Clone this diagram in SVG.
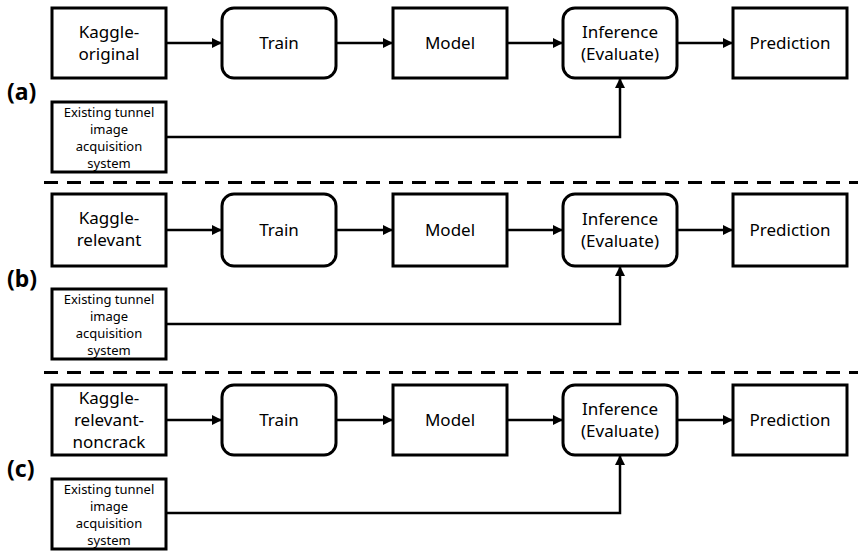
<svg xmlns="http://www.w3.org/2000/svg" width="858" height="551" viewBox="0 0 858 551">
<defs>
<marker id="ah" viewBox="0 0 10 10" refX="10" refY="5" markerWidth="10" markerHeight="10" markerUnits="userSpaceOnUse" orient="auto">
<path d="M0,0 L10,5 L0,10 Z" fill="#000"/>
</marker>
<style>
.box{fill:#fff;stroke:#000;stroke-width:3}
.t{font-family:"Noto Sans","Open Sans","Liberation Sans",sans-serif;font-size:17px;text-anchor:middle;fill:#000}
.s{font-family:"Noto Sans","Open Sans","Liberation Sans",sans-serif;font-size:13px;text-anchor:middle;fill:#000}
.lab{font-family:"Noto Sans","Open Sans","Liberation Sans",sans-serif;font-size:23px;font-weight:bold;fill:#000}
.c{fill:none;stroke:#000;stroke-width:2.5;marker-end:url(#ah)}
.d{fill:none;stroke:#000;stroke-width:3;stroke-dasharray:14 9}
</style>
</defs>
<rect width="858" height="551" fill="#fff"/>

<g id="separators">
<line class="d" x1="44" y1="182.5" x2="858" y2="182.5"/>
<line class="d" x1="44" y1="372.5" x2="858" y2="372.5"/>
</g>

<text class="lab" x="7" y="100">(a)</text>
<text class="lab" x="7" y="287">(b)</text>
<text class="lab" x="7" y="477">(c)</text>

<g id="connectors">
<line class="c" x1="166" y1="43" x2="222" y2="43"/>
<line class="c" x1="336" y1="43" x2="393" y2="43"/>
<line class="c" x1="507" y1="43" x2="563" y2="43"/>
<line class="c" x1="677" y1="43" x2="733" y2="43"/>
<polyline class="c" points="166,137 620,137 620,78"/>

<line class="c" x1="166" y1="230" x2="222" y2="230"/>
<line class="c" x1="336" y1="230" x2="393" y2="230"/>
<line class="c" x1="507" y1="230" x2="563" y2="230"/>
<line class="c" x1="677" y1="230" x2="733" y2="230"/>
<polyline class="c" points="166,324 620,324 620,266"/>

<line class="c" x1="166" y1="420" x2="222" y2="420"/>
<line class="c" x1="336" y1="420" x2="393" y2="420"/>
<line class="c" x1="507" y1="420" x2="563" y2="420"/>
<line class="c" x1="677" y1="420" x2="733" y2="420"/>
<polyline class="c" points="166,513 620,513 620,455"/>
</g>

<!-- Row a -->
<g id="a-kaggle"><rect class="box" x="52" y="8" width="114" height="70"/><text class="t" x="109" y="38">Kaggle-</text><text class="t" x="109" y="60">original</text></g>
<g id="a-train"><rect class="box" x="222" y="8" width="114" height="70" rx="12"/><text class="t" x="279" y="49">Train</text></g>
<g id="a-model"><rect class="box" x="393" y="8" width="114" height="70"/><text class="t" x="450" y="49">Model</text></g>
<g id="a-inference"><rect class="box" x="563" y="8" width="114" height="70" rx="12"/><text class="t" x="620" y="38">Inference</text><text class="t" x="620" y="60">(Evaluate)</text></g>
<g id="a-prediction"><rect class="box" x="733" y="8" width="114" height="70"/><text class="t" x="790" y="49">Prediction</text></g>
<g id="a-existing"><rect class="box" x="52" y="102" width="114" height="70"/><text class="s" x="109" y="117">Existing tunnel</text><text class="s" x="109" y="134">image</text><text class="s" x="109" y="151">acquisition</text><text class="s" x="109" y="168">system</text></g>

<!-- Row b -->
<g id="b-kaggle"><rect class="box" x="52" y="194" width="114" height="72"/><text class="t" x="109" y="224">Kaggle-</text><text class="t" x="109" y="246">relevant</text></g>
<g id="b-train"><rect class="box" x="222" y="194" width="114" height="72" rx="12"/><text class="t" x="279" y="236">Train</text></g>
<g id="b-model"><rect class="box" x="393" y="194" width="114" height="72"/><text class="t" x="450" y="236">Model</text></g>
<g id="b-inference"><rect class="box" x="563" y="194" width="114" height="72" rx="12"/><text class="t" x="620" y="225">Inference</text><text class="t" x="620" y="247">(Evaluate)</text></g>
<g id="b-prediction"><rect class="box" x="733" y="194" width="114" height="72"/><text class="t" x="790" y="236">Prediction</text></g>
<g id="b-existing"><rect class="box" x="52" y="289" width="114" height="70"/><text class="s" x="109" y="304">Existing tunnel</text><text class="s" x="109" y="321">image</text><text class="s" x="109" y="338">acquisition</text><text class="s" x="109" y="355">system</text></g>

<!-- Row c -->
<g id="c-kaggle"><rect class="box" x="52" y="385" width="114" height="70"/><text class="t" x="109" y="404">Kaggle-</text><text class="t" x="109" y="426">relevant-</text><text class="t" x="109" y="448">noncrack</text></g>
<g id="c-train"><rect class="box" x="222" y="385" width="114" height="70" rx="12"/><text class="t" x="279" y="426">Train</text></g>
<g id="c-model"><rect class="box" x="393" y="385" width="114" height="70"/><text class="t" x="450" y="426">Model</text></g>
<g id="c-inference"><rect class="box" x="563" y="385" width="114" height="70" rx="12"/><text class="t" x="620" y="415">Inference</text><text class="t" x="620" y="437">(Evaluate)</text></g>
<g id="c-prediction"><rect class="box" x="733" y="385" width="114" height="70"/><text class="t" x="790" y="426">Prediction</text></g>
<g id="c-existing"><rect class="box" x="52" y="479" width="114" height="70"/><text class="s" x="109" y="494">Existing tunnel</text><text class="s" x="109" y="511">image</text><text class="s" x="109" y="528">acquisition</text><text class="s" x="109" y="545">system</text></g>
</svg>
